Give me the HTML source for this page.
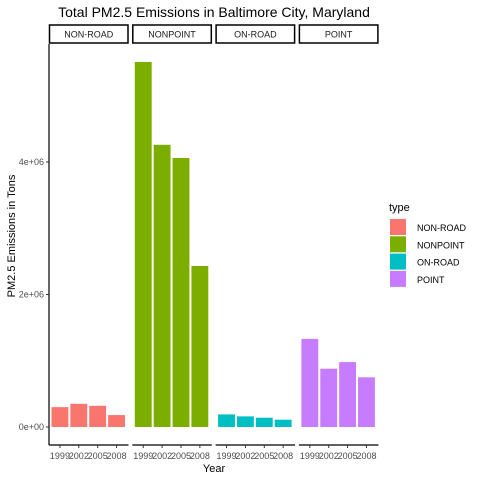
<!DOCTYPE html>
<html><head><meta charset="utf-8"><style>body{margin:0;background:#fff}svg{display:block;font-family:"Liberation Sans",sans-serif}</style></head>
<body>
<svg id="c" width="480" height="480">
<text x="214" y="17" font-size="14" text-anchor="middle" fill="#000">Total PM2.5 Emissions in Baltimore City, Maryland</text>
<text x="214" y="472" font-size="11" text-anchor="middle" fill="#000">Year</text>
<text transform="translate(15,236) rotate(-90)" font-size="11" text-anchor="middle" fill="#000">PM2.5 Emissions in Tons</text>
<g id="legend">
<text x="389" y="211" font-size="11" fill="#000">type</text>
</g>
</svg>
<script>
const types=["NON-ROAD","NONPOINT","ON-ROAD","POINT"];
const years=["1999","2002","2005","2008"];
const colors=["#F8766D","#7CAE00","#00BFC4","#C77CFF"];
const nonRoad=[0.30e6,0.35e6,0.32e6,0.18e6];
const nonPoint=[5.51e6,4.26e6,4.06e6,2.43e6];
const onRoad=[0.19e6,0.16e6,0.14e6,0.11e6];
const point=[1.33e6,0.88e6,0.98e6,0.75e6];
const yTicks=[0,2e6,4e6];
const yTickLabels=["0e+00","2e+06","4e+06"];
const series=[nonRoad,nonPoint,onRoad,point];
const svg=document.getElementById('c');const NS="http://www.w3.org/2000/svg";
function mk(t,a,p){const e=document.createElementNS(NS,t);for(const k in a)e.setAttribute(k,a[k]);(p||svg).appendChild(e);return e;}
const y0=427,pxPer=66.25/1e6;
function y(v){return y0-v*pxPer;}
const pLeft=49,pStep=83.3,pW=79.5,pTop=44,pBottom=445;
function px(i){return pLeft+i*pStep;}
const ax=mk('line',{x1:pLeft,x2:pLeft,y1:pTop,y2:pBottom,stroke:'#000','stroke-width':1.2});


yTicks.forEach((v,i)=>{
 const l=mk('line',{x1:pLeft-3,x2:pLeft,y1:y(v),y2:y(v),stroke:'#333'});
 
 
 const t=mk('text',{x:pLeft-5,y:y(v)+3,'font-size':9,'text-anchor':'end',fill:'#4d4d4d'});t.textContent=yTickLabels[i];
 
 
});
types.forEach((tp,i)=>{
 const x0=px(i);
 const s=mk('rect',{x:x0+0.5,y:pTop-19,width:pW-1,height:18,fill:'#fff',stroke:'#000','stroke-width':1.5});
 
 
 const st=mk('text',{x:x0+pW/2,y:pTop-6.5,'font-size':9,'text-anchor':'middle',fill:'#1a1a1a'});st.textContent=tp;
 
 
 const bl=mk('line',{x1:x0,x2:x0+pW,y1:pBottom,y2:pBottom,stroke:'#000','stroke-width':1.2});
 
 
 const w=(pW-6)/4;
 series[i].forEach((v,j)=>{
  const bxx=x0+2+j*(w+0.5)+0.5;
  const r=mk('rect',{x:bxx,y:y(v),width:w-1.5,height:y0-y(v),fill:colors[i]});
  
  
  const cx=bxx+(w-1.5)/2;
  const tk=mk('line',{x1:cx,x2:cx,y1:pBottom,y2:pBottom+3,stroke:'#333'});
  
  
  const tl=mk('text',{x:cx,y:pBottom+14,'font-size':9,'text-anchor':'middle',fill:'#4d4d4d'});tl.textContent=years[j];
  
  
 });
});
const lg=document.getElementById('legend');
types.forEach((tp,i)=>{
 const r=mk('rect',{x:390,y:219+i*17.3,width:16,height:16,fill:colors[i]},lg);
 
 
 const t=mk('text',{x:417,y:231+i*17.3,'font-size':9,fill:'#000'},lg);t.textContent=tp;
 
 
});
</script>
</body></html>
